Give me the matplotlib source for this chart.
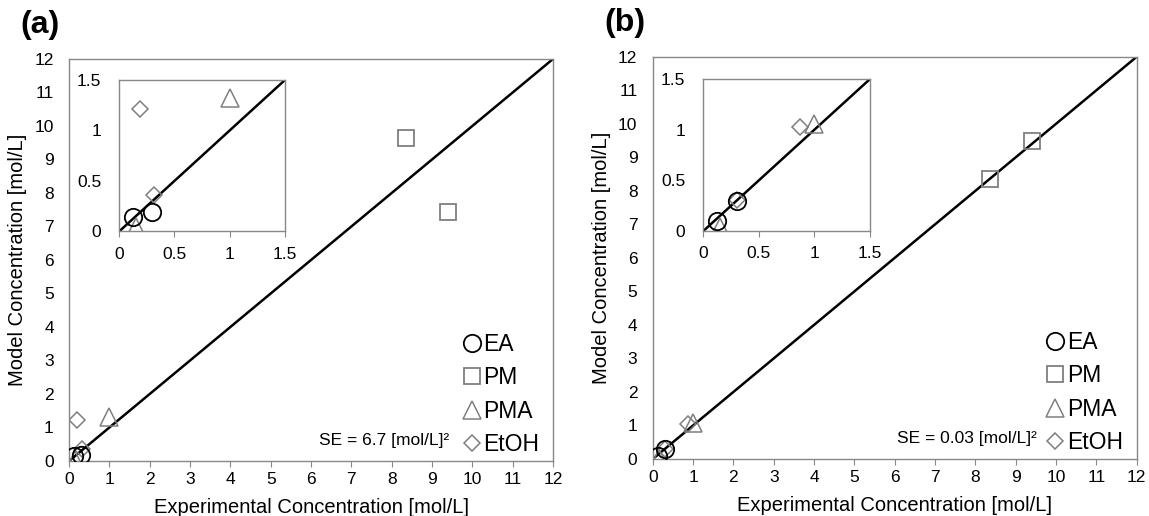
import matplotlib.pyplot as plt

plt.rcParams['font.family'] = ['Liberation Sans', 'DejaVu Sans']

# ---- data: experimental vs model concentration [mol/L] ----
EA_EXP      = [0.12, 0.30]
EA_MOD_A    = [0.14, 0.19]
EA_MOD_B    = [0.10, 0.30]
PM_EXP      = [8.35, 9.40]
PM_MOD_A    = [9.63, 7.42]
PM_MOD_B    = [8.35, 9.50]
PMA_EXP     = [0.15, 1.00]
PMA_MOD_A   = [0.04, 1.32]
PMA_MOD_B   = [0.04, 1.06]
ETOH_EXP_A  = [0.19, 0.31]
ETOH_MOD_A  = [1.21, 0.36]
ETOH_EXP_B  = [0.30, 0.87]
ETOH_MOD_B  = [0.31, 1.03]

MAIN_TICKS  = list(range(0, 13))
INSET_TICKS = [0, 0.5, 1, 1.5]
INSET_LBLS  = ['0', '0.5', '1', '1.5']

# ---- style ----
SPINE_C, GREY_C = '#888888', '#7f7f7f'
TICK_FS, LABEL_FS, LEG_FS = 12.5, 14.5, 16.5


def style_axes(ax, lim, ticks, labels):
    ax.set_xlim(0, lim); ax.set_ylim(0, lim)
    ax.set_xticks(ticks); ax.set_yticks(ticks)
    ax.set_xticklabels(labels, fontsize=TICK_FS)
    ax.set_yticklabels(labels, fontsize=TICK_FS)
    for s in ax.spines.values():
        s.set_color(SPINE_C); s.set_linewidth(1.0)
    ax.tick_params(axis='x', direction='out', length=4, color=SPINE_C, pad=4)
    ax.tick_params(axis='y', length=0, pad=11)
    ax.plot([0, lim], [0, lim], '-', color='black', linewidth=1.8, zorder=1)


def draw_points(ax, ea_y, pm_y, pma_y, etoh_x, etoh_y, with_pm=True):
    ax.plot(EA_EXP, ea_y, 'o', ms=12.5, mfc='none', mec='black', mew=1.3,
            label='EA', zorder=3)
    if with_pm:
        ax.plot(PM_EXP, pm_y, 's', ms=11.5, mfc='none', mec=GREY_C, mew=1.3,
                label='PM', zorder=3)
    ax.plot(PMA_EXP, pma_y, '^', ms=12.5, mfc='none', mec=GREY_C, mew=1.1,
            label='PMA', zorder=2)
    ax.plot(etoh_x, etoh_y, 'D', ms=8, mfc='none', mec=GREY_C, mew=1.1,
            label='EtOH', zorder=2)


def panel(main_rect, inset_rect, ea_y, pm_y, pma_y, etoh_x, etoh_y, se, tag):
    ax = fig.add_axes(main_rect)
    style_axes(ax, 12, MAIN_TICKS, [str(t) for t in MAIN_TICKS])
    draw_points(ax, ea_y, pm_y, pma_y, etoh_x, etoh_y)
    ax.set_xlabel('Experimental Concentration [mol/L]', fontsize=LABEL_FS, labelpad=8)
    ax.set_ylabel('Model Concentration [mol/L]', fontsize=LABEL_FS, labelpad=5)
    ax.text(7.8, 0.62, f'SE = {se} [mol/L]²', fontsize=12.5, ha='center', va='center')
    ax.legend(loc='lower right', bbox_to_anchor=(1.0, -0.022), frameon=False,
              fontsize=LEG_FS, handlelength=0.6, handletextpad=0.2,
              labelspacing=0.45, borderaxespad=0.2)
    ax.text(-0.1, 1.085, tag, transform=ax.transAxes, fontsize=23,
            fontweight='bold', ha='left', va='center')

    ins = fig.add_axes(inset_rect)
    style_axes(ins, 1.5, INSET_TICKS, INSET_LBLS)
    ins.tick_params(axis='y', pad=13)
    ins.tick_params(axis='x', pad=7)
    draw_points(ins, ea_y, pm_y, pma_y, etoh_x, etoh_y, with_pm=False)
    return ax


fig = plt.figure(figsize=(11.49, 5.16), dpi=100)

panel([0.0601, 0.1066, 0.4212, 0.7791], [0.1038, 0.5517, 0.1442, 0.2933],
      EA_MOD_A, PM_MOD_A, PMA_MOD_A, ETOH_EXP_A, ETOH_MOD_A, '6.7', '(a)')
panel([0.5681, 0.1105, 0.4212, 0.7795], [0.6121, 0.5523, 0.1451, 0.2946],
      EA_MOD_B, PM_MOD_B, PMA_MOD_B, ETOH_EXP_B, ETOH_MOD_B, '0.03', '(b)')

fig.savefig('out.png', dpi=100)
